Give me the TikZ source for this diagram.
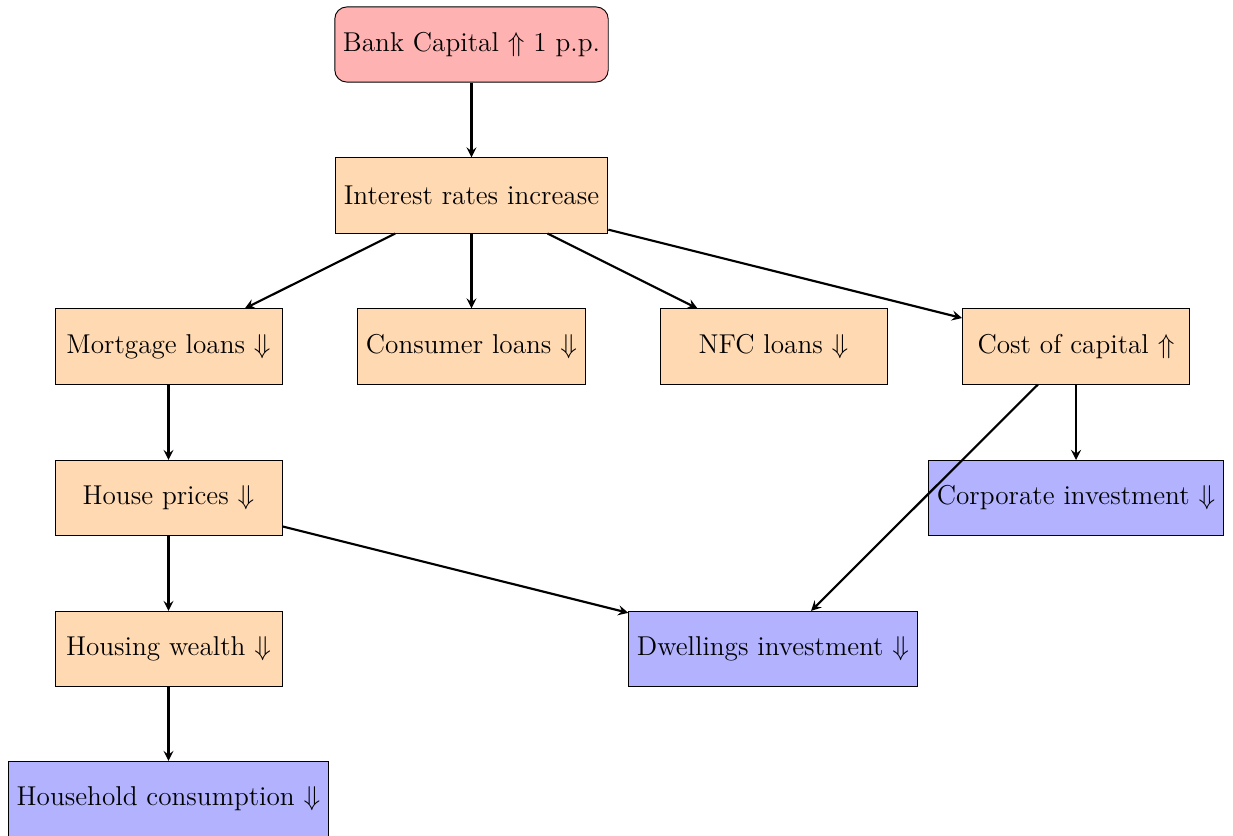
\documentclass[tikz,border=0pt]{standalone}
\usetikzlibrary{arrows}
\begin{document}
\begin{tikzpicture}[x=0.44054pt,y=-0.44054pt,
  font=\large,
  box/.style={draw,fill=orange!30,minimum width=100pt,minimum height=33.1pt,inner sep=3.6pt},
  topbox/.style={box,fill=red!30,rounded corners=5.3pt,minimum width=120.2pt},
  outbox/.style={box,fill=blue!30},
  conn/.style={->,>=stealth,line width=0.95pt}]
\useasboundingbox (0,0) rectangle (1233,836);
\node[topbox] (bank) at (471.5,44.5) {Bank Capital $\Uparrow$ 1 p.p.};
\node[box,minimum width=120.2pt] (rates) at (471.5,195.5) {Interest rates increase};
\node[box] (mort) at (168.5,346.5) {Mortgage loans $\Downarrow$};
\node[box] (cons) at (471.5,346.5) {Consumer loans $\Downarrow$};
\node[box] (nfc) at (773.5,346.5) {NFC loans $\Downarrow$};
\node[box] (cost) at (1076,346.5) {Cost of capital $\Uparrow$};
\node[box] (house) at (168.5,498) {House prices $\Downarrow$};
\node[outbox] (corp) at (1076,498) {Corporate investment $\Downarrow$};
\node[box] (wealth) at (168.5,649) {Housing wealth $\Downarrow$};
\node[outbox] (dwell) at (773,649) {Dwellings investment $\Downarrow$};
\node[outbox] (hh) at (168.5,799) {Household consumption $\Downarrow$};
\draw[conn] (bank) -- (rates);
\draw[conn] (rates) -- (mort);
\draw[conn] (rates) -- (cons);
\draw[conn] (rates) -- (nfc);
\draw[conn] (rates) -- (cost);
\draw[conn] (mort) -- (house);
\draw[conn] (house) -- (wealth);
\draw[conn] (wealth) -- (hh);
\draw[conn] (house) -- (dwell);
\draw[conn] (cost) -- (corp);
\draw[conn] (cost) -- (dwell);
\end{tikzpicture}
\end{document}
